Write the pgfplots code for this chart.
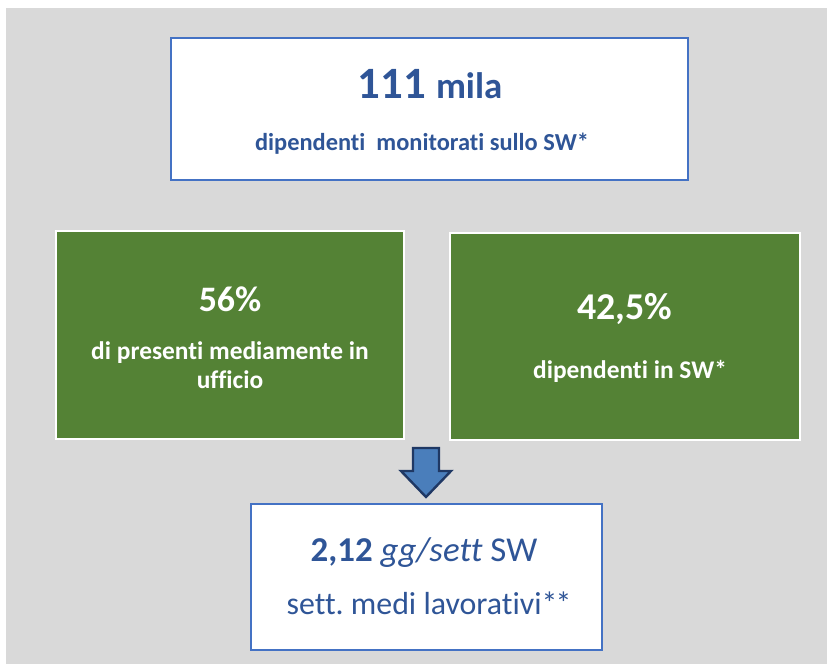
\documentclass[border=0pt]{standalone}
\usepackage{pgfplots}
\pgfplotsset{compat=1.18}
\usepackage{fontspec}
\setmainfont{Carlito}[Ligatures=NoCommon]
\definecolor{bg}{HTML}{D9D9D9}
\definecolor{boxblue}{HTML}{4472C4}
\definecolor{txtblue}{HTML}{2F5597}
\definecolor{grn}{HTML}{548235}
\definecolor{arrfill}{HTML}{4A7EBB}
\definecolor{arrdraw}{HTML}{1F3864}
\begin{document}
\begin{tikzpicture}
\begin{axis}[
  width=827bp, height=664bp, scale only axis,
  xmin=0, xmax=827, ymin=0, ymax=664, y dir=reverse,
  hide axis, clip=false,
]
% page background
\addplot[fill=white, draw=none] coordinates {(0,0) (827,0) (827,664) (0,664)} -- cycle;
\addplot[fill=bg, draw=none] coordinates {(6,8) (827,8) (827,664) (6,664)} -- cycle;
% top box
\addplot[fill=white, draw=boxblue, line width=2.6bp] coordinates {(171,38) (688,38) (688,180) (171,180)} -- cycle;
% green boxes
\addplot[fill=grn, draw=white, line width=2.2bp] coordinates {(56,231) (404,231) (404,439) (56,439)} -- cycle;
\addplot[fill=grn, draw=white, line width=2.2bp] coordinates {(450,233) (800,233) (800,440) (450,440)} -- cycle;
% arrow
\addplot[fill=arrfill, draw=arrdraw, line width=2.4bp] coordinates {(413,448) (439,448) (439,471) (451,471) (426,497) (401,471) (413,471)} -- cycle;
% bottom box
\addplot[fill=white, draw=boxblue, line width=2.4bp] coordinates {(251,504) (602,504) (602,650) (251,650)} -- cycle;
% texts
\node[anchor=base, text=txtblue, font=\bfseries] at (axis cs:430,98) {\fontsize{45}{48}\selectfont 111 \fontsize{37}{40}\selectfont mila};
\node[anchor=base, text=txtblue, font=\bfseries\fontsize{24.5}{28}\selectfont] at (axis cs:422,150) {dipendenti\ \ monitorati sullo SW*};
\node[anchor=base, text=white, font=\bfseries\fontsize{36}{40}\selectfont] at (axis cs:230,311) {56\%};
\node[anchor=base, text=white, font=\bfseries\fontsize{25.5}{28}\selectfont] at (axis cs:230,359) {di presenti mediamente in};
\node[anchor=base, text=white, font=\bfseries\fontsize{25.5}{28}\selectfont] at (axis cs:230,388) {ufficio};
\node[anchor=base, text=white, font=\bfseries\fontsize{38}{42}\selectfont] at (axis cs:625,319) {42,5\%};
\node[anchor=base, text=white, font=\bfseries\fontsize{25.5}{28}\selectfont] at (axis cs:630,378) {dipendenti in SW*};
\node[anchor=base, text=txtblue, font=\fontsize{35}{38}\selectfont] at (axis cs:424,561) {\textbf{2,12} \textit{gg/sett} SW};
\node[anchor=base, text=txtblue, font=\fontsize{32}{36}\selectfont] at (axis cs:429,614) {sett.\ medi lavorativi*\kern-2bp*};
\end{axis}
\end{tikzpicture}
\end{document}
